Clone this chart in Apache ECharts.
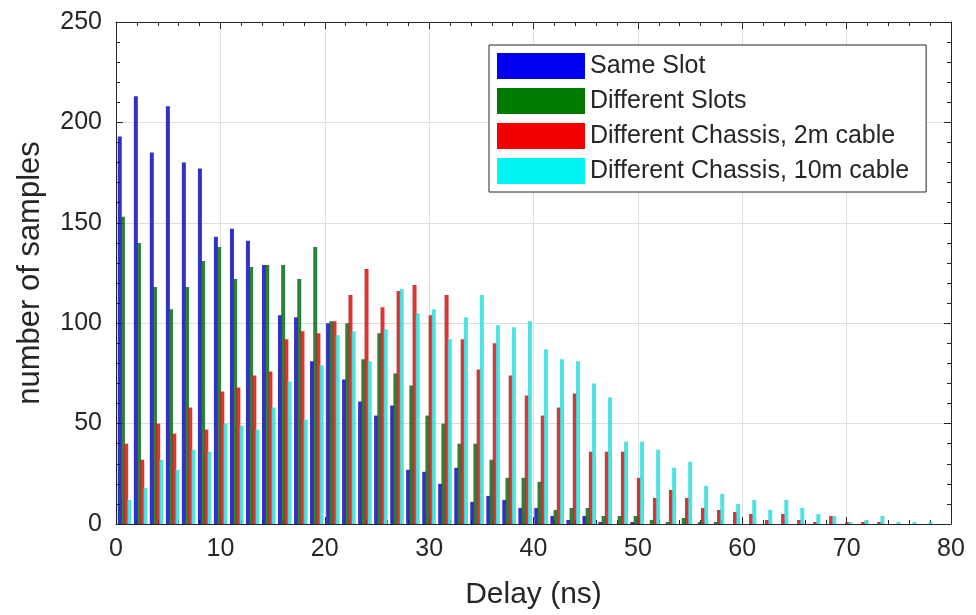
<!DOCTYPE html>
<html><head><meta charset="utf-8">
<script src="https://cdn.jsdelivr.net/npm/echarts@6/dist/echarts.min.js"></script>
<style>html,body{margin:0;padding:0;background:#fff;}#c{width:976px;height:615px;}</style>
</head><body><div id="c"></div>
<script>
// Bin centres (ns)
const delays = [0.82,2.36,3.89,5.43,6.96,8.50,10.03,11.57,13.10,14.64,16.17,17.71,19.24,20.78,22.31,23.85,25.38,26.92,28.45,29.99,31.52,33.06,34.59,36.13,37.66,39.20,40.73,42.27,43.80,45.34,46.87,48.41,49.94,51.48,53.01,54.55,56.08,57.62,59.15,60.69,62.22,63.76,65.29,66.83,68.36,69.90,71.43,72.97,74.50,76.04,77.57];
const sameSlot = [193,213,185,208,180,177,143,147,141,129,104,103,81,100,72,61,54,59,27,26,20,28,11,14,12,8,8,4,2,4,1,0,1,0,0,0,0,0,0,0,0,0,0,0,0,0,0,0,0,0,0];
const diffSlots = [153,140,118,107,118,131,138,122,128,129,129,122,138,101,100,82,95,75,69,54,50,40,40,32,23,23,21,7,8,8,4,4,4,2,1,3,1,1,0,0,0,0,0,0,0,0,0,0,0,0,0];
const chassis2m = [40,32,50,45,58,47,66,68,74,76,92,96,95,101,114,127,108,116,119,104,114,92,77,90,74,64,54,58,65,36,36,36,23,13,17,13,8,7,6,5,2,5,2,1,4,1,1,1,0,0,0];
const chassis10m = [12,18,32,27,37,36,50,49,47,58,71,52,79,94,96,81,97,117,105,107,92,103,114,99,98,101,87,82,81,70,63,41,41,37,28,31,19,15,10,12,7,12,8,5,4,1,2,4,1,1,1];
const seriesNames = ['Same Slot','Different Slots','Different Chassis, 2m cable','Different Chassis, 10m cable'];
const seriesValues = [sameSlot, diffSlots, chassis2m, chassis10m];
const xTickValues = [0,10,20,30,40,50,60,70,80];

const FONT = "'Liberation Sans', Arial, Helvetica, sans-serif";
const barColors = ['#1010b8','#0a6e16','#d41414','#2edede'];
const legendColors = ['#0000f0','#007a00','#f00000','#00f4f4'];
const AX = '#262626';

const chart = echarts.init(document.getElementById('c'), null, {renderer:'canvas'});
const axisCommon = {
  axisLine:{show:true, onZero:false, lineStyle:{color:AX, width:1}},
  axisTick:{show:true, inside:true, length:7, lineStyle:{color:AX}},
  minorTick:{show:true, splitNumber:5, length:4, lineStyle:{color:AX}},
};
const option = {
  animation:false,
  backgroundColor:'#fff',
  grid:{left:116, right:25, top:22, bottom:90, containLabel:false},
  legend:{
    orient:'vertical', left:489, top:45,
    padding:[8,17,8,8], itemGap:9, itemWidth:88, itemHeight:26,
    icon:'rect', borderColor:AX, borderWidth:1, backgroundColor:'#fff',
    textStyle:{fontFamily:FONT, fontSize:25, color:AX},
    data: seriesNames.map((n,i)=>({name:n, itemStyle:{color:legendColors[i], opacity:1}}))
  },
  xAxis:[
    Object.assign({type:'value', min:0, max:80, interval:10, position:'bottom',
      axisLabel:{fontFamily:FONT, fontSize:25, color:AX, margin:13, customValues:xTickValues},
      splitLine:{show:true, lineStyle:{color:'#dedede', width:1}},
      name:'Delay (ns)', nameLocation:'middle', nameGap:56,
      nameTextStyle:{fontFamily:FONT, fontSize:30, color:AX}}, axisCommon),
    Object.assign({type:'value', min:0, max:80, interval:10, position:'top',
      axisLabel:{show:false}, splitLine:{show:false}}, axisCommon)
  ],
  yAxis:[
    Object.assign({type:'value', min:0, max:250, interval:50, position:'left',
      axisLabel:{fontFamily:FONT, fontSize:25, color:AX, margin:14},
      splitLine:{show:true, lineStyle:{color:'#dedede', width:1}},
      name:'number of samples', nameLocation:'middle', nameGap:70,
      nameTextStyle:{fontFamily:FONT, fontSize:31, color:AX}}, axisCommon),
    Object.assign({type:'value', min:0, max:250, interval:50, position:'right',
      axisLabel:{show:false}, splitLine:{show:false}}, axisCommon)
  ],
  series: seriesValues.map((vals,i)=>({
    name:seriesNames[i], type:'bar', xAxisIndex:0, yAxisIndex:0,
    barWidth:4, barGap:'-20%',
    itemStyle:{color:barColors[i], opacity:0.86},
    emphasis:{disabled:true},
    data: delays.map((d,j)=>[d, vals[j]])
  }))
};
chart.setOption(option);
</script></body></html>
